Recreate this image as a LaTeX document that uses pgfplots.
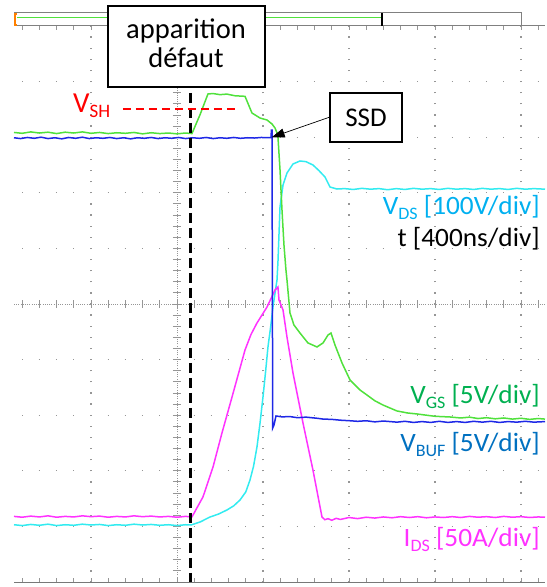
\documentclass[border=0pt]{standalone}
\usepackage{pgfplots}
\pgfplotsset{compat=1.18}
\usepackage{fontspec}
\setmainfont{Carlito}
\usetikzlibrary{arrows.meta}

\definecolor{trgreen}{RGB}{80,225,60}
\definecolor{trblue}{RGB}{30,40,230}
\definecolor{trcyan}{RGB}{50,235,240}
\definecolor{trmag}{RGB}{255,50,255}
\definecolor{lbcyan}{RGB}{0,176,240}
\definecolor{lbgreen}{RGB}{0,176,80}
\definecolor{lbblue}{RGB}{0,112,192}
\definecolor{gridgray}{RGB}{150,150,150}

\newcommand{\sub}[1]{\raisebox{-5bp}{\fontsize{17.5bp}{17.5bp}\selectfont #1}}
\newcommand{\rlab}[1]{\scalebox{1.03}[1]{\fontsize{26.5bp}{30bp}\selectfont #1}}

\begin{document}
\begin{tikzpicture}
\useasboundingbox (-14bp,-5bp) rectangle (533bp,582bp);
\begin{axis}[at={(0,0)}, anchor=south west, scale only axis,
  width=531bp, height=556bp,
  xmin=-1.895, xmax=4.279, ymin=-5, ymax=5,
  axis line style={draw=none}, xtick=\empty, ytick=\empty, clip=false]

% dotted grid
\pgfplotsinvokeforeach{-1,1,2,3,4}{
  \draw[gridgray, line width=1.3bp, dash pattern=on 1.3bp off 9.82bp, dash phase=0.65bp] (axis cs:#1,-5) -- (axis cs:#1,5);}
\pgfplotsinvokeforeach{-4,-3,-2,-1,1,2,3,4}{
  \draw[gridgray, line width=1.3bp, dash pattern=on 1.3bp off 15.9bp, dash phase=0.65bp] (axis cs:-1.8,#1) -- (axis cs:4.279,#1);}
% centre axes
\draw[gridgray, line width=0.8bp, dash pattern=on 1bp off 1.2bp] (axis cs:-1.895,0) -- (axis cs:4.279,0);
\draw[gridgray, line width=0.8bp, dash pattern=on 1bp off 1.2bp] (axis cs:0,-5) -- (axis cs:0,5);
\pgfplotsinvokeforeach{-1.8,-1.6,...,4.21}{
  \draw[gridgray, line width=0.9bp] (axis cs:#1,-0.065) -- (axis cs:#1,0.065);
  \draw[gridgray, line width=0.9bp] (axis cs:#1,-5) -- (axis cs:#1,-4.93);
  \draw[gridgray, line width=0.9bp] (axis cs:#1,5) -- (axis cs:#1,4.93);}
\pgfplotsinvokeforeach{-4.8,-4.6,...,4.81}{
  \draw[gridgray, line width=0.9bp] (axis cs:-0.047,#1) -- (axis cs:0.047,#1);}
\draw[gridgray!80!black, line width=1bp] (axis cs:-1.895,-5) -- (axis cs:4.279,-5);
% record bar
\draw[fill=white, draw=gray, line width=1bp] (axis cs:-1.895,5.0) rectangle (axis cs:4.0,5.234);
\draw[trgreen, line width=1.2bp] (axis cs:-1.86,5.15) -- (axis cs:2.384,5.15);
\draw[black, line width=1.5bp] (axis cs:2.384,5.0) -- (axis cs:2.384,5.234);
\draw[orange, line width=1.5bp] (axis cs:-1.86,5.22) -- (axis cs:-1.885,5.22) -- (axis cs:-1.885,5.015) -- (axis cs:-1.86,5.015);
\draw[gray, line width=1bp] (axis cs:4.0,5) -- (axis cs:4.279,5);

% V_DS
\addplot[trcyan, line width=1.5bp, no markers] coordinates {
(-1.895,-3.97) (-1.80,-3.985) (-1.70,-3.965) (-1.60,-3.98) (-1.50,-3.96) (-1.40,-3.985) (-1.30,-3.97) (-1.20,-3.98) (-1.10,-3.96) (-1.00,-3.975) (-0.90,-3.965) (-0.80,-3.985) (-0.70,-3.97) (-0.60,-3.98) (-0.50,-3.96) (-0.40,-3.975) (-0.30,-3.965) (-0.20,-3.98) (-0.10,-3.97) (0.00,-3.985) (0.10,-3.97) (0.163,-3.975) (0.27,-3.92) (0.384,-3.831) (0.48,-3.78) (0.581,-3.705) (0.66,-3.63) (0.733,-3.525) (0.80,-3.38) (0.849,-3.165) (0.890,-2.92) (0.930,-2.572) (0.965,-2.15) (1.0,-1.673) (1.03,-1.22) (1.058,-0.773) (1.09,-0.40) (1.116,-0.054) (1.163,0.432) (1.174,0.755) (1.198,1.745) (1.233,2.140) (1.279,2.356) (1.349,2.518) (1.430,2.572) (1.50,2.56) (1.581,2.50) (1.65,2.40) (1.721,2.284) (1.779,2.104) (1.860,2.068) (1.95,2.075) (2.05,2.06) (2.15,2.08) (2.25,2.065) (2.35,2.075) (2.45,2.055) (2.55,2.075) (2.65,2.06) (2.75,2.08) (2.85,2.065) (2.95,2.075) (3.05,2.06) (3.15,2.08) (3.25,2.065) (3.35,2.075) (3.45,2.06) (3.55,2.08) (3.65,2.065) (3.75,2.075) (3.85,2.06) (3.95,2.08) (4.05,2.065) (4.15,2.075) (4.279,2.065)};
% I_DS
\addplot[trmag, line width=1.5bp, no markers] coordinates {
(-1.895,-3.82) (-1.80,-3.835) (-1.70,-3.815) (-1.60,-3.83) (-1.50,-3.81) (-1.40,-3.835) (-1.30,-3.82) (-1.20,-3.83) (-1.10,-3.81) (-1.00,-3.825) (-0.90,-3.815) (-0.80,-3.835) (-0.70,-3.82) (-0.60,-3.83) (-0.50,-3.81) (-0.40,-3.825) (-0.30,-3.815) (-0.20,-3.83) (-0.10,-3.82) (0.00,-3.835) (0.10,-3.82) (0.174,-3.83) (0.302,-3.471) (0.419,-2.932) (0.523,-2.320) (0.640,-1.673) (0.791,-0.827) (0.86,-0.55) (0.930,-0.342) (1.047,-0.054) (1.140,0.252) (1.174,0.306) (1.186,0.072) (1.233,-0.108) (1.279,-0.594) (1.349,-1.241) (1.465,-2.140) (1.581,-2.986) (1.686,-3.831) (1.72,-3.88) (1.756,-3.86) (1.80,-3.89) (1.85,-3.855) (1.90,-3.875) (2.0,-3.84) (2.1,-3.86) (2.2,-3.835) (2.3,-3.85) (2.4,-3.83) (2.5,-3.845) (2.6,-3.825) (2.7,-3.84) (2.8,-3.825) (2.9,-3.845) (3.0,-3.83) (3.1,-3.84) (3.2,-3.825) (3.3,-3.84) (3.4,-3.82) (3.5,-3.835) (3.6,-3.825) (3.7,-3.84) (3.8,-3.82) (3.9,-3.835) (4.0,-3.825) (4.1,-3.84) (4.2,-3.83) (4.279,-3.835)};
% V_GS
\addplot[trgreen, line width=1.5bp, no markers] coordinates {
(-1.895,3.085) (-1.80,3.07) (-1.70,3.095) (-1.60,3.075) (-1.50,3.09) (-1.40,3.065) (-1.30,3.09) (-1.20,3.075) (-1.10,3.095) (-1.00,3.07) (-0.90,3.085) (-0.80,3.065) (-0.70,3.08) (-0.60,3.07) (-0.50,3.085) (-0.40,3.06) (-0.30,3.08) (-0.20,3.065) (-0.10,3.075) (0.00,3.06) (0.10,3.075) (0.174,3.065) (0.267,3.40) (0.360,3.777) (0.42,3.785) (0.5,3.765) (0.58,3.775) (0.674,3.745) (0.791,3.735) (0.872,3.435) (0.965,3.345) (1.047,3.309) (1.105,3.237) (1.140,3.165) (1.163,3.076) (1.174,3.004) (1.198,2.410) (1.221,1.691) (1.244,1.061) (1.267,0.612) (1.279,0.432) (1.314,-0.162) (1.360,-0.378) (1.430,-0.522) (1.523,-0.701) (1.628,-0.773) (1.698,-0.701) (1.756,-0.558) (1.791,-0.522) (1.837,-0.737) (1.919,-1.061) (2.012,-1.367) (2.128,-1.547) (2.209,-1.637) (2.30,-1.74) (2.395,-1.817) (2.558,-1.924) (2.68,-1.96) (2.791,-1.978) (2.9,-2.0) (3.0,-2.02) (3.174,-2.032) (3.3,-2.05) (3.4,-2.035) (3.5,-2.06) (3.6,-2.045) (3.7,-2.065) (3.8,-2.05) (3.9,-2.07) (4.0,-2.055) (4.1,-2.075) (4.2,-2.06) (4.279,-2.07)};
% V_BUF
\addplot[trblue, line width=1.5bp, no markers] coordinates {
(-1.895,2.99) (-1.82,2.975) (-1.74,2.995) (-1.66,2.98) (-1.58,3.0) (-1.50,2.975) (-1.42,2.99) (-1.34,2.97) (-1.26,2.995) (-1.18,2.98) (-1.10,3.0) (-1.02,2.975) (-0.94,2.99) (-0.86,2.98) (-0.78,2.995) (-0.70,2.975) (-0.62,2.99) (-0.54,2.97) (-0.46,2.99) (-0.38,2.98) (-0.30,2.995) (-0.22,2.975) (-0.14,2.99) (-0.06,2.98) (0.02,2.995) (0.10,2.975) (0.18,2.99) (0.26,2.98) (0.34,2.995) (0.42,2.975) (0.50,2.99) (0.58,2.98) (0.66,2.995) (0.74,2.98) (0.82,2.99) (0.90,2.985) (0.98,2.995) (1.06,2.99) (1.093,2.99) (1.098,3.129) (1.105,3.129) (1.113,-2.230) (1.128,-2.176) (1.151,-2.014) (1.22,-2.03) (1.314,-2.025) (1.40,-2.045) (1.5,-2.035) (1.628,-2.055) (1.7,-2.07) (1.8,-2.075) (1.9,-2.09) (2.012,-2.1) (2.1,-2.11) (2.2,-2.1) (2.3,-2.12) (2.4,-2.105) (2.558,-2.125) (2.65,-2.11) (2.75,-2.13) (2.85,-2.115) (2.95,-2.13) (3.05,-2.11) (3.15,-2.13) (3.25,-2.115) (3.35,-2.13) (3.45,-2.11) (3.55,-2.125) (3.65,-2.11) (3.75,-2.13) (3.85,-2.115) (3.95,-2.125) (4.05,-2.11) (4.15,-2.125) (4.279,-2.115)};

% markers / annotations
\draw[black, line width=2.8bp, dash pattern=on 10bp off 5bp] (axis cs:0.157,3.795) -- (axis cs:0.157,-5);
\draw[red, line width=2bp, dash pattern=on 8bp off 5bp] (axis cs:-0.628,3.507) -- (axis cs:0.674,3.507);
\node[anchor=base west, text=red, inner sep=0] at (axis cs:-1.21,3.453) {\fontsize{29bp}{32bp}\selectfont V\raisebox{-5bp}{\fontsize{19bp}{19bp}\selectfont SH}};

\draw[fill=white, draw=black, line width=1.3bp] (axis cs:-0.802,5.36) rectangle (axis cs:1.023,3.903);
\node[anchor=base, inner sep=0] at (axis cs:0.105,4.766) {\fontsize{28.5bp}{32bp}\selectfont apparition};
\node[anchor=base, inner sep=0] at (axis cs:0.105,4.245) {\fontsize{28.5bp}{32bp}\selectfont défaut};

\draw[-{Triangle[length=13bp,width=9bp]}, line width=0.7bp] (axis cs:1.779,3.363) -- (axis cs:1.101,2.998);
\draw[fill=white, draw=black, line width=1.2bp] (axis cs:1.779,3.795) rectangle (axis cs:2.616,2.914);
\node[anchor=base, inner sep=0] at (axis cs:2.198,3.201) {\fontsize{27bp}{30bp}\selectfont SSD};

\node[anchor=base east, text=lbcyan, inner sep=0] at (axis cs:4.22,1.61) {\rlab{V\sub{DS} [100V/div]}};
\node[anchor=base east, text=black, inner sep=0] at (axis cs:4.22,1.04) {\rlab{t [400ns/div]}};
\node[anchor=base east, text=lbgreen, inner sep=0] at (axis cs:4.22,-1.781) {\rlab{V\sub{GS} [5V/div]}};
\node[anchor=base east, text=lbblue, inner sep=0] at (axis cs:4.22,-2.656) {\rlab{V\sub{BUF} [5V/div]}};
\node[anchor=base east, text=trmag, inner sep=0] at (axis cs:4.22,-4.365) {\rlab{I\sub{DS} [50A/div]}};
\end{axis}
\end{tikzpicture}
\end{document}
